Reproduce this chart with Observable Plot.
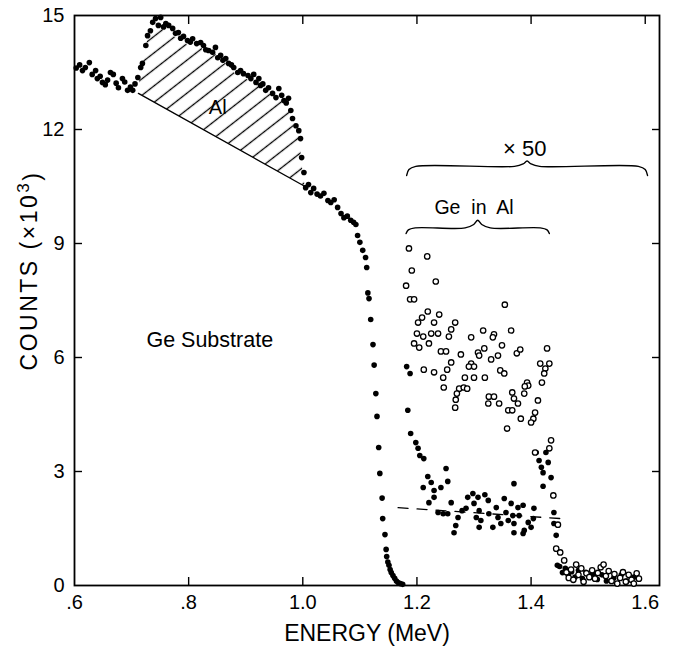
<!DOCTYPE html>
<html><head><meta charset="utf-8">
<script src="https://cdn.jsdelivr.net/npm/d3@7"></script>
<script src="https://cdn.jsdelivr.net/npm/@observablehq/plot@0.6"></script>
<style>body{margin:0;background:#fff} svg{display:block}</style>
</head><body><div id="chart"></div>
<script>
// ---- data: [energy (MeV), counts (x10^3)] ----
const substrateLow = [[0.603,13.62],[0.609,13.70],[0.614,13.55],[0.619,13.63],[0.626,13.76],[0.631,13.45],[0.637,13.55],[0.640,13.34],[0.645,13.40],[0.649,13.24],[0.654,13.18],[0.658,13.30],[0.663,13.50],[0.668,13.45],[0.673,13.22],[0.677,13.10],[0.684,13.34],[0.688,13.25],[0.693,13.03],[0.698,13.12],[0.702,13.03],[0.706,13.20],[0.711,13.37]];
const alPeak = [[0.716,13.63],[0.719,13.74],[0.725,14.21],[0.728,14.47],[0.733,14.60],[0.737,14.82],[0.742,14.92],[0.747,14.74],[0.751,14.95],[0.756,14.70],[0.760,14.79],[0.765,14.74],[0.772,14.66],[0.777,14.53],[0.782,14.55],[0.786,14.40],[0.791,14.45],[0.798,14.34],[0.803,14.30],[0.807,14.39],[0.814,14.26],[0.821,14.29],[0.826,14.21],[0.830,14.10],[0.835,14.08],[0.842,14.03],[0.847,14.16],[0.851,13.89],[0.856,13.95],[0.860,13.82],[0.865,13.87],[0.870,13.74],[0.875,13.70],[0.879,13.63],[0.886,13.50],[0.891,13.55],[0.896,13.47],[0.904,13.42],[0.909,13.34],[0.914,13.45],[0.918,13.24],[0.923,13.34],[0.926,13.16],[0.930,13.20],[0.935,13.03],[0.940,13.10],[0.947,12.95],[0.953,12.84],[0.958,13.08],[0.963,12.90],[0.967,12.76],[0.971,12.70],[0.975,12.82],[0.979,12.50],[0.982,12.29],[0.988,12.10],[0.993,11.97],[0.996,11.76],[0.998,11.26],[1.002,10.87]];
const substrateEdge = [[1.005,10.47],[1.010,10.55],[1.014,10.34],[1.019,10.45],[1.025,10.30],[1.031,10.25],[1.037,10.32],[1.044,10.13],[1.049,10.08],[1.055,10.15],[1.061,9.95],[1.067,9.79],[1.072,9.68],[1.078,9.72],[1.084,9.61],[1.089,9.56],[1.093,9.50],[1.096,9.21],[1.100,9.03],[1.105,8.82],[1.110,8.63],[1.112,8.37],[1.114,7.70],[1.116,7.55],[1.119,7.00],[1.123,6.34],[1.125,5.80],[1.128,5.05],[1.130,4.45],[1.133,3.63],[1.135,2.95],[1.139,2.30],[1.140,1.76],[1.144,1.34],[1.146,0.95],[1.147,0.76],[1.149,0.62],[1.151,0.53],[1.153,0.42],[1.155,0.34],[1.158,0.26],[1.161,0.19],[1.164,0.12],[1.167,0.08],[1.171,0.05],[1.175,0.03]];
const geInAl = [[1.182,5.76],[1.188,5.58],[1.184,4.61],[1.189,4.00],[1.198,3.76],[1.202,3.61],[1.205,3.42],[1.212,3.34],[1.219,2.87],[1.225,2.71],[1.211,2.58],[1.230,2.50],[1.242,2.58],[1.251,3.08],[1.254,2.74],[1.221,2.18],[1.230,2.32],[1.237,1.92],[1.246,1.89],[1.260,2.18],[1.254,1.89],[1.265,1.39],[1.268,1.58],[1.272,1.79],[1.279,1.97],[1.286,2.03],[1.289,2.32],[1.298,2.42],[1.300,2.16],[1.307,2.32],[1.309,1.97],[1.304,1.79],[1.312,1.71],[1.309,1.53],[1.319,2.39],[1.325,2.24],[1.326,1.89],[1.333,1.53],[1.339,2.05],[1.342,1.79],[1.347,1.63],[1.353,2.29],[1.356,1.92],[1.360,1.71],[1.365,2.16],[1.368,1.84],[1.370,1.63],[1.370,1.39],[1.377,2.05],[1.379,1.84],[1.386,2.11],[1.388,1.45],[1.395,1.66],[1.400,1.53],[1.404,1.76],[1.386,1.37],[1.370,2.68],[1.405,2.03],[1.409,3.50],[1.414,3.29],[1.418,3.11],[1.421,2.97],[1.426,3.50],[1.430,3.24],[1.435,2.84],[1.421,2.61],[1.440,1.92],[1.440,1.63],[1.444,1.32],[1.446,0.53]];
const geInAlx50 = [[1.186,8.87],[1.218,8.66],[1.191,8.29],[1.181,7.89],[1.233,8.00],[1.188,7.53],[1.195,7.53],[1.354,7.39],[1.219,7.21],[1.239,7.13],[1.209,7.05],[1.202,6.92],[1.230,6.92],[1.267,6.92],[1.260,6.74],[1.200,6.63],[1.211,6.55],[1.225,6.63],[1.237,6.63],[1.256,6.55],[1.295,6.53],[1.316,6.71],[1.335,6.61],[1.333,6.53],[1.365,6.71],[1.195,6.37],[1.204,6.26],[1.221,6.37],[1.242,6.16],[1.251,6.16],[1.277,6.08],[1.318,6.24],[1.307,6.13],[1.349,6.32],[1.375,6.11],[1.381,6.21],[1.428,6.24],[1.309,6.05],[1.330,5.95],[1.342,6.05],[1.260,5.87],[1.295,5.84],[1.300,5.76],[1.291,5.76],[1.416,5.84],[1.432,5.84],[1.425,5.71],[1.423,5.58],[1.212,5.68],[1.230,5.61],[1.246,5.47],[1.253,5.68],[1.346,5.66],[1.353,5.58],[1.284,5.47],[1.300,5.47],[1.319,5.47],[1.419,5.34],[1.247,5.21],[1.274,5.18],[1.282,5.21],[1.288,5.18],[1.270,5.05],[1.393,5.34],[1.395,5.26],[1.389,5.24],[1.367,5.08],[1.388,5.05],[1.326,4.97],[1.335,4.97],[1.370,4.92],[1.268,4.89],[1.325,4.79],[1.344,4.79],[1.412,4.87],[1.267,4.68],[1.377,4.79],[1.360,4.61],[1.367,4.61],[1.407,4.55],[1.382,4.39],[1.404,4.39],[1.400,4.29],[1.358,4.13],[1.435,3.82],[1.407,3.50],[1.432,3.61],[1.439,2.37],[1.447,1.60],[1.444,0.97],[1.451,0.87],[1.458,0.66]];
const tailOpen = [[1.462,0.35],[1.466,0.20],[1.470,0.42],[1.474,0.15],[1.479,0.55],[1.483,0.28],[1.488,0.45],[1.492,0.10],[1.497,0.32],[1.502,0.22],[1.507,0.40],[1.512,0.18],[1.517,0.33],[1.522,0.48],[1.527,0.55],[1.531,0.25],[1.536,0.38],[1.541,0.12],[1.546,0.30],[1.551,0.05],[1.556,0.20],[1.561,0.35],[1.566,0.10],[1.571,0.28],[1.576,0.15],[1.580,0.05],[1.585,0.32],[1.589,0.18]];
const tailFilled = [[1.450,0.50],[1.455,0.34],[1.460,0.45],[1.465,0.28],[1.471,0.36],[1.477,0.22],[1.483,0.40],[1.490,0.18],[1.496,0.35],[1.503,0.26],[1.510,0.30],[1.516,0.16],[1.524,0.28],[1.532,0.12],[1.545,0.20],[1.558,0.28],[1.568,0.12],[1.580,0.22]];
// Ge substrate level under the Al peak, and dashed background line
const baseE = [0.712, 1.004], baseC = [12.95, 10.50];
const dashE = [1.167, 1.453], dashC = [2.05, 1.76];
// axes
const xTicks = [0.6, 0.8, 1.0, 1.2, 1.4, 1.6];
const xTickLabels = [".6", ".8", "1.0", "1.2", "1.4", "1.6"];
const yTicks = [0, 3, 6, 9, 12, 15];
const xInnerTicksBottom = [0.8, 1.0, 1.2, 1.4];
const xInnerTicksTop = [0.8, 1.0, 1.2, 1.4, 1.6];
const yInnerTicks = [3, 6, 9, 12];

// ---- derived ----
const lerpBase = e => baseC[0] + (baseC[1] - baseC[0]) * (e - baseE[0]) / (baseE[1] - baseE[0]);
const hatchRows = [{e: baseE[0], lo: baseC[0], hi: baseC[0]}]
  .concat(alPeak.filter(([e]) => e > baseE[0] && e < baseE[1]).map(([e, c]) => ({e, lo: lerpBase(e), hi: Math.max(lerpBase(e), c - 0.12)})))
  .concat([{e: baseE[1], lo: baseC[1], hi: baseC[1]}]);
const filled = substrateLow.concat(alPeak, substrateEdge, geInAl, tailFilled);
const openPts = geInAlx50.concat(tailOpen);

function brace(x1, x2, y, h, tip) {
  const xm = (x1 + x2) / 2;
  return [[x1, y - h], [x1 + 0.004, y - h * 0.35], [x1 + 0.016, y], [xm - 0.022, y], [xm - 0.007, y + tip * 0.45], [xm, y + tip],
          [xm + 0.007, y + tip * 0.45], [xm + 0.022, y], [x2 - 0.016, y], [x2 - 0.004, y - h * 0.35], [x2, y - h]];
}
const brace50 = brace(1.182, 1.604, 11.03, 0.24, 0.14);
const braceGe = brace(1.181, 1.432, 9.41, 0.15, 0.2);

const noText = () => "";
const fontFamily = "'Liberation Sans', Arial, Helvetica, sans-serif";
const chart = Plot.plot({
  width: 678, height: 656,
  marginLeft: 74, marginRight: 19, marginTop: 15, marginBottom: 71,
  style: {fontFamily, fontSize: "20px", background: "#fff", color: "#000"},
  x: {domain: [0.6, 1.625]},
  y: {domain: [0, 15]},
  marks: [
    Plot.areaY(hatchRows, {x: "e", y1: "lo", y2: "hi", fill: "url(#hatch)"}),
    Plot.line(baseE.map((e, i) => [e, baseC[i]]), {x: d => d[0], y: d => d[1], stroke: "#000", strokeWidth: 1.3}),
    Plot.line(dashE.map((e, i) => [e, dashC[i]]), {x: d => d[0], y: d => d[1], stroke: "#000", strokeWidth: 1.3, strokeDasharray: "10,9"}),
    Plot.frame({stroke: "#000", strokeWidth: 1.8}),
    // inward ticks: outward axis ticks shifted into the frame
    Plot.axisX({anchor: "bottom", ticks: xInnerTicksBottom, tickSize: 8, dy: -8, strokeWidth: 1.4, tickFormat: noText, label: null}),
    Plot.axisX({anchor: "top", ticks: xInnerTicksTop, tickSize: 8, dy: 8, strokeWidth: 1.4, tickFormat: noText, label: null}),
    Plot.axisY({anchor: "left", ticks: yInnerTicks, tickSize: 8, dx: 8, strokeWidth: 1.4, tickFormat: noText, label: null}),
    Plot.axisY({anchor: "right", ticks: yInnerTicks, tickSize: 8, dx: -8, strokeWidth: 1.4, tickFormat: noText, label: null}),
    Plot.axisX({anchor: "bottom", ticks: xTicks, tickFormat: d => xTickLabels[xTicks.indexOf(d)], tickSize: 0, tickPadding: 9, fontSize: 20, label: null}),
    Plot.axisY({anchor: "left", ticks: yTicks, tickSize: 0, tickPadding: 10, fontSize: 20, label: null}),
    Plot.dot(filled, {x: d => d[0], y: d => d[1], r: 2.8, fill: "#000"}),
    Plot.dot(openPts, {x: d => d[0], y: d => d[1], r: 2.7, stroke: "#000", strokeWidth: 1.3, fill: "#fff"}),
    Plot.line(brace50, {x: d => d[0], y: d => d[1], stroke: "#000", strokeWidth: 1.4, curve: "catmull-rom"}),
    Plot.line(braceGe, {x: d => d[0], y: d => d[1], stroke: "#000", strokeWidth: 1.4, curve: "catmull-rom"}),
    Plot.text(["Al"], {x: 0.851, y: 12.58, text: d => d, fontSize: 20}),
    Plot.text(["Ge Substrate"], {x: 0.837, y: 6.45, text: d => d, fontSize: 21.5}),
    Plot.text(["× 50"], {x: 1.389, y: 11.5, text: d => d, fontSize: 22}),
    Plot.text(["Ge  in  Al"], {x: 1.300, y: 9.95, text: d => d, fontSize: 19.5}),
    Plot.text(["COUNTS (×10³)"], {frameAnchor: "left", textAnchor: "middle", lineAnchor: "middle", text: d => d, rotate: -90, dx: -45, dy: -30, fontSize: 23}),
    Plot.text(["ENERGY (MeV)"], {frameAnchor: "bottom", textAnchor: "middle", lineAnchor: "middle", text: d => d, dy: 48, fontSize: 23})
  ]
});
const ns = "http://www.w3.org/2000/svg";
const defs = document.createElementNS(ns, "defs");
defs.innerHTML = '<pattern id="hatch" patternUnits="userSpaceOnUse" width="13" height="13" patternTransform="rotate(-38)"><line x1="0" y1="6.5" x2="13" y2="6.5" stroke="#000" stroke-width="1.3"/></pattern>';
chart.insertBefore(defs, chart.firstChild);
// larger superscript and wider spacing for the y label, as in the original
d3.select(chart).selectAll("text").filter(function() { return this.textContent === "COUNTS (×10³)"; })
  .each(function() {
    const t = d3.select(this).text("").attr("letter-spacing", "2.5px");
    t.append("tspan").text("COUNTS (×10");
    t.append("tspan").attr("dy", "-0.45em").attr("font-size", "17px").text("3");
    t.append("tspan").attr("dy", "0.45em").text(")");
  });
document.getElementById("chart").appendChild(chart);
</script></body></html>
